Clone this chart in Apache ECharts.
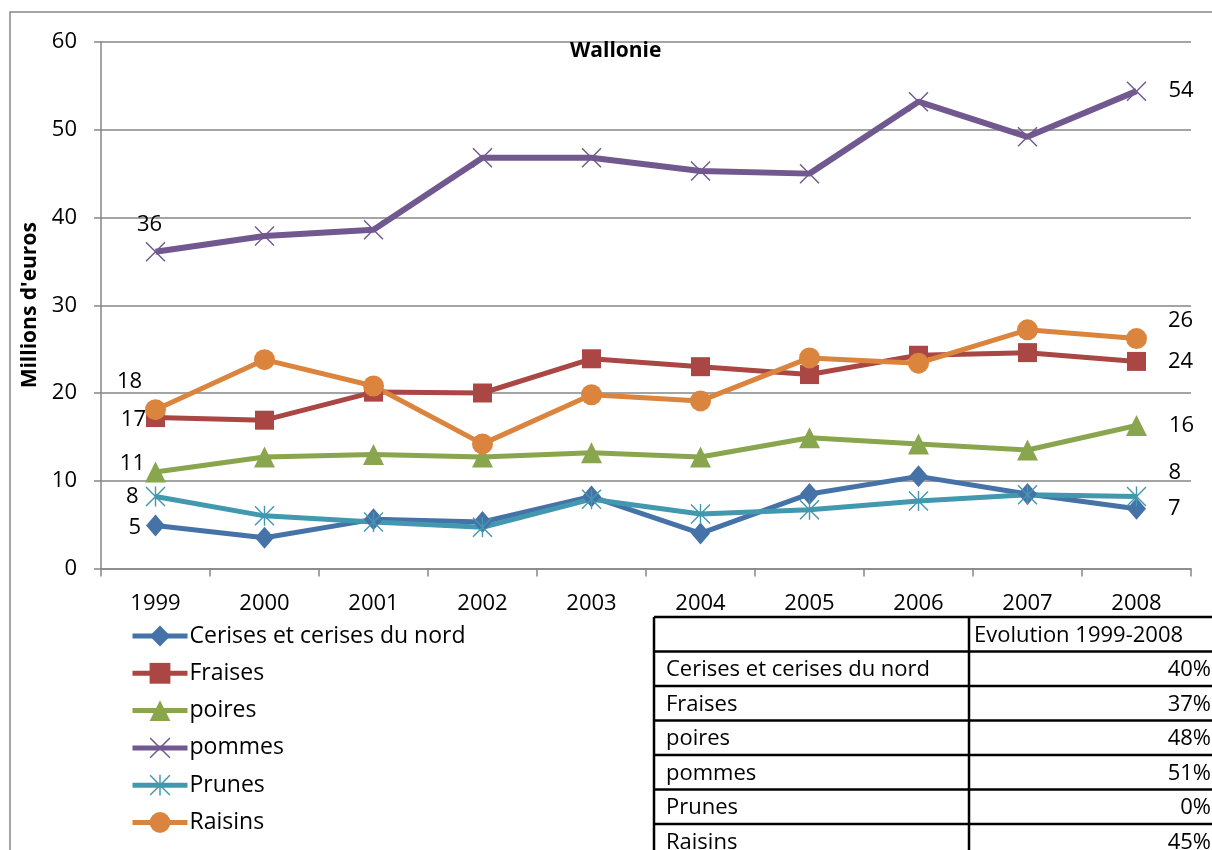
<!DOCTYPE html>
<html>
<head>
<meta charset="utf-8">
<script src="https://cdn.jsdelivr.net/npm/echarts@6/dist/echarts.min.js"></script>
<style>
  html, body { margin: 0; padding: 0; background: #fff; }
  #chart { width: 1212px; height: 850px; }
</style>
</head>
<body>
<div id="chart"></div>
<script>
const years = ['1999', '2000', '2001', '2002', '2003', '2004', '2005', '2006', '2007', '2008'];
const cerises = [4.9, 3.5, 5.6, 5.3, 8.2, 4.0, 8.5, 10.5, 8.5, 6.8];
const fraises = [17.2, 16.9, 20.1, 20.0, 23.9, 23.0, 22.1, 24.3, 24.6, 23.6];
const poires = [11.0, 12.7, 13.0, 12.7, 13.2, 12.7, 14.9, 14.2, 13.5, 16.3];
const pommes = [36.1, 37.9, 38.6, 46.8, 46.8, 45.3, 45.0, 53.2, 49.2, 54.4];
const prunes = [8.2, 6.0, 5.3, 4.7, 7.9, 6.2, 6.7, 7.7, 8.4, 8.2];
const raisins = [18.1, 23.8, 20.8, 14.2, 19.8, 19.1, 24.0, 23.4, 27.2, 26.2];

const seriesNames = ['Cerises et cerises du nord', 'Fraises', 'poires', 'pommes', 'Prunes', 'Raisins'];
const tableHeader = 'Evolution 1999-2008';
const evolution = ['40%', '37%', '48%', '51%', '0%', '45%'];

const FONT = '"Open Sans", sans-serif';
const crossPath = 'path://M0,1 L1,0 L10,9 L19,0 L20,1 L11,10 L20,19 L19,20 L10,11 L1,20 L0,19 L9,10 Z';
const starPath = 'path://M9.3,0 L10.7,0 L10.7,20 L9.3,20 Z M0,1 L1,0 L10,9 L19,0 L20,1 L11,10 L20,19 L19,20 L10,11 L1,20 L0,19 L9,10 Z';

// only first and last points get a value label
function withEndLabels(values, first, last) {
    return values.map((v, i) => {
        if (i === 0) return { value: v, label: Object.assign({ show: true }, first) };
        if (i === values.length - 1) return { value: v, label: Object.assign({ show: true }, last) };
        return v;
    });
}

const rightLabel = { position: 'right', distance: 22 };

function makeSeries(name, values, color, symbol, size, first, last, width) {
    return {
        name,
        type: 'line',
        data: withEndLabels(values, first, last),
        symbol,
        symbolSize: size,
        lineStyle: { color, width: width || 5 },
        itemStyle: { color },
        label: {
            color: '#000',
            fontSize: 22,
            fontFamily: FONT,
            formatter: (p) => Math.round(p.value),
        },
        emphasis: { disabled: true },
        animation: false,
    };
}

function buildTable() {
    const x0 = 654;
    const xDiv = 969;
    const x1 = 1216;
    const top = 617;
    const rowH = 34.5;
    const els = [];
    const rows = [''].concat(seriesNames);
    for (let i = 0; i <= rows.length; i++) {
        const y = top + i * rowH;
        els.push({ type: 'line', shape: { x1: x0, y1: y, x2: x1, y2: y }, style: { stroke: '#000', lineWidth: 2.5 } });
    }
    const bottom = top + rows.length * rowH;
    els.push({ type: 'line', shape: { x1: x0, y1: top, x2: x0, y2: bottom }, style: { stroke: '#000', lineWidth: 2.5 } });
    els.push({ type: 'line', shape: { x1: xDiv, y1: top, x2: xDiv, y2: bottom }, style: { stroke: '#000', lineWidth: 2.5 } });
    const txt = { fill: '#000', fontSize: 22, fontFamily: FONT, verticalAlign: 'middle' };
    els.push({ type: 'text', x: xDiv + 5, y: top + rowH / 2 + 1, style: Object.assign({ text: tableHeader, align: 'left' }, txt) });
    seriesNames.forEach((n, i) => {
        const cy = top + (i + 1.5) * rowH + 1;
        els.push({ type: 'text', x: x0 + 12, y: cy, style: Object.assign({ text: n, align: 'left' }, txt) });
        els.push({ type: 'text', x: 1211, y: cy, style: Object.assign({ text: evolution[i], align: 'right' }, txt) });
    });
    return els;
}

const chart = echarts.init(document.getElementById('chart'));
const option = {
    backgroundColor: '#fff',
    title: {
        text: 'Wallonie',
        left: 565,
        top: 36,
        textStyle: { fontSize: 21, fontWeight: 'bold', fontFamily: FONT, color: '#000' },
    },
    legend: {
        orient: 'vertical',
        left: 125,
        top: 617,
        itemWidth: 55,
        itemHeight: 26,
        itemGap: 9.3,
        data: seriesNames,
        lineStyle: { width: 5 },
        textStyle: { fontSize: 23, lineHeight: 28, fontFamily: FONT, color: '#000', padding: [0, 0, 0, -3] },
    },
    grid: {
        left: 101,
        right: 21,
        top: 42,
        bottom: 281.5,
    },
    xAxis: {
        type: 'category',
        data: years,
        boundaryGap: true,
        axisLine: { lineStyle: { color: '#868686', width: 1.5 } },
        axisTick: { show: true, length: 8, lineStyle: { color: '#868686', width: 1.5 } },
        axisLabel: { color: '#000', fontSize: 22, fontFamily: FONT, margin: 24 },
    },
    yAxis: {
        type: 'value',
        min: 0,
        max: 60,
        interval: 10,
        name: "Millions d'euros",
        nameLocation: 'middle',
        nameGap: 57,
        nameTextStyle: { fontSize: 21, fontWeight: 'bold', fontFamily: FONT, color: '#000' },
        axisLine: { show: true, lineStyle: { color: '#868686', width: 1.5 } },
        axisTick: { show: true, length: 7, lineStyle: { color: '#868686', width: 1.5 } },
        axisLabel: { color: '#000', fontSize: 22, fontFamily: FONT, margin: 24 },
        splitLine: { lineStyle: { color: '#868686', width: 1.5 } },
    },
    graphic: [
        { type: 'rect', shape: { x: 10, y: 12, width: 1300, height: 1000 }, style: { fill: 'none', stroke: '#868686', lineWidth: 1.5 }, z: -1 },
    ].concat(buildTable()),
    series: [
        makeSeries(seriesNames[0], cerises, '#4572A7', 'diamond', [19, 22],
            { position: 'left', distance: 5, offset: [0, 2] }, rightLabel),
        makeSeries(seriesNames[1], fraises, '#AA4643', 'rect', 19,
            { position: 'left', distance: 0, offset: [0, 2] }, rightLabel),
        makeSeries(seriesNames[2], poires, '#89A54E', 'triangle', 21,
            { position: 'left', distance: 0, offset: [0, -8] }, rightLabel),
        makeSeries(seriesNames[3], pommes, '#71588F', crossPath, 20,
            { position: 'top', distance: 6, offset: [-6, 0] }, rightLabel, 6),
        makeSeries(seriesNames[4], prunes, '#4198AF', starPath, 20,
            { position: 'left', distance: 7 }, { position: 'right', distance: 22, offset: [0, -24] }),
        makeSeries(seriesNames[5], raisins, '#DB843D', 'circle', 21,
            { position: 'top', distance: 6, offset: [-26, 0] }, { position: 'right', distance: 21, offset: [0, -18] }),
    ],
};
chart.setOption(option);
</script>
</body>
</html>
